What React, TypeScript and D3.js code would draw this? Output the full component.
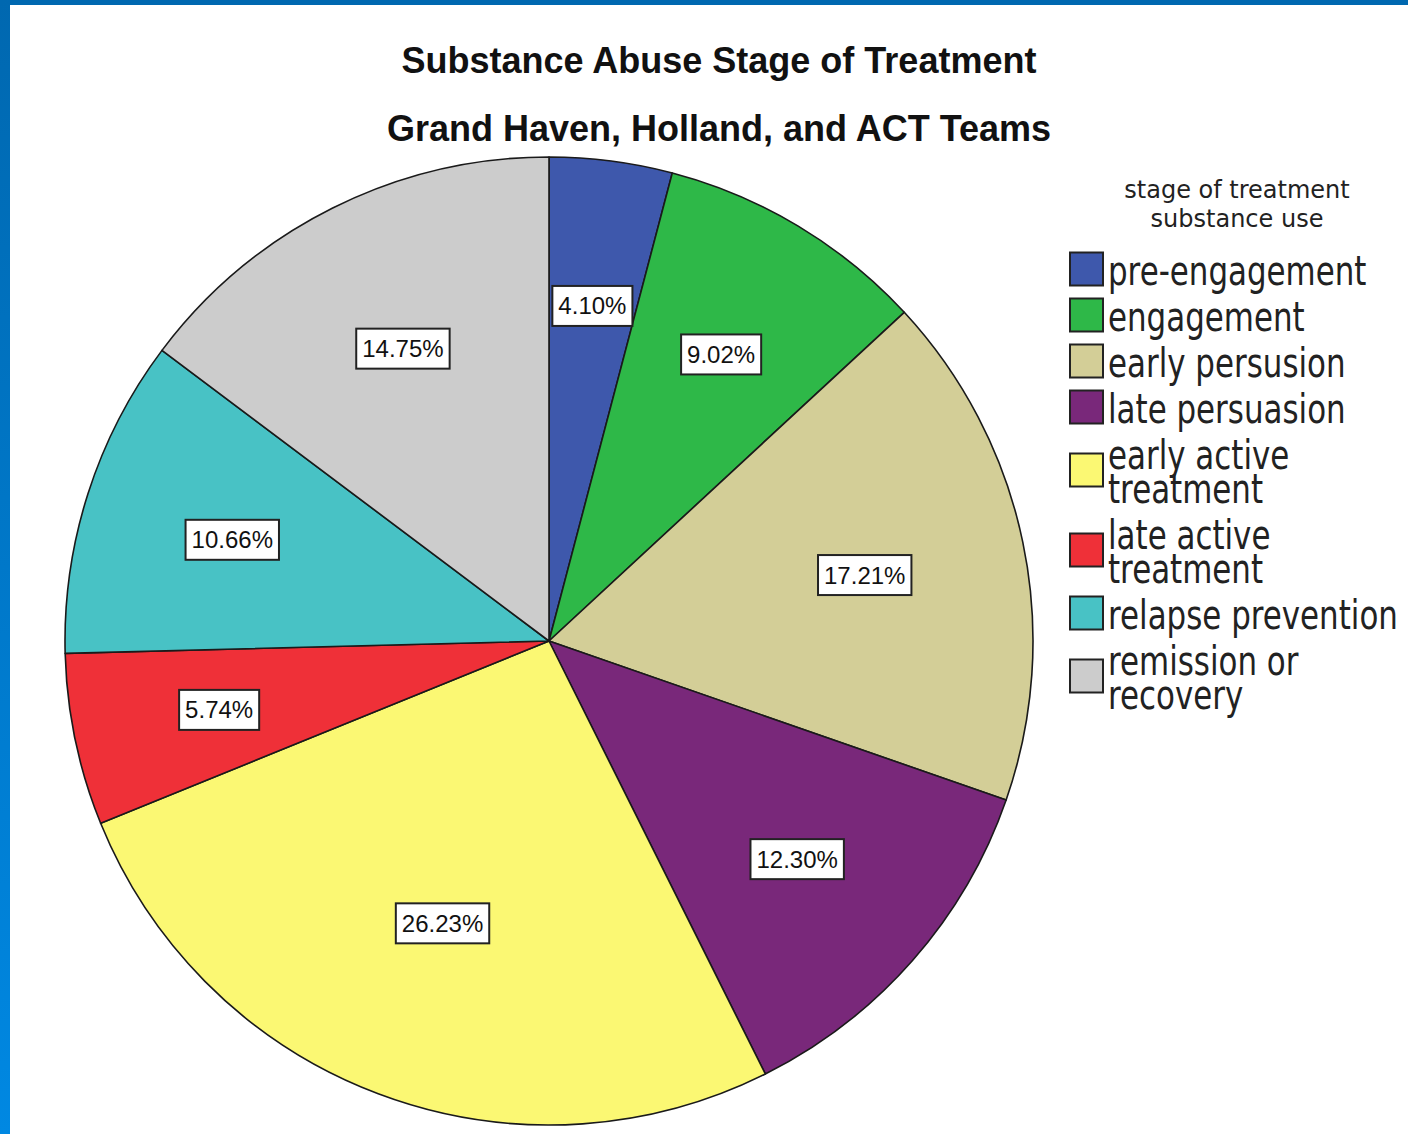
import React, { useEffect, useRef } from 'react';
import * as d3 from 'd3';

const titleLines = ['Substance Abuse Stage of Treatment', 'Grand Haven, Holland, and ACT Teams'];
const legendTitle = ['stage of treatment', 'substance use'];
const categories = [
  'pre-engagement', 'engagement', 'early persusion', 'late persuasion',
  'early active treatment', 'late active treatment', 'relapse prevention', 'remission or recovery',
];
const legendLines = [
  ['pre-engagement'], ['engagement'], ['early persusion'], ['late persuasion'],
  ['early active', 'treatment'], ['late active', 'treatment'], ['relapse prevention'], ['remission or', 'recovery'],
];
const percents = [4.10, 9.02, 17.21, 12.30, 26.23, 5.74, 10.66, 14.75];
const colors = ['#3E58AC', '#2EB848', '#D3CE97', '#79287A', '#FBF873', '#EF3038', '#48C2C5', '#CCCCCC'];

const W = 1408;
const H = 1134;

export default function App() {
  const ref = useRef<SVGSVGElement | null>(null);

  useEffect(() => {
    const svg = d3.select(ref.current);
    svg.selectAll('*').remove();

    const defs = svg.append('defs');
    const grad = defs.append('linearGradient').attr('id', 'leftband').attr('x1', 0).attr('y1', 0).attr('x2', 0).attr('y2', 1);
    grad.append('stop').attr('offset', '0%').attr('stop-color', '#0068B0');
    grad.append('stop').attr('offset', '100%').attr('stop-color', '#0088E2');

    svg.append('rect').attr('width', W).attr('height', H).attr('fill', '#ffffff');
    svg.append('rect').attr('x', 0).attr('y', 0).attr('width', W).attr('height', 5).attr('fill', '#0068B0');
    svg.append('rect').attr('x', 0).attr('y', 0).attr('width', 10).attr('height', H).attr('fill', 'url(#leftband)');

    // Title
    const titleG = svg.append('g');
    titleLines.forEach((t, i) => {
      titleG.append('text')
        .attr('x', 719).attr('y', 73 + i * 68)
        .attr('text-anchor', 'middle')
        .attr('font-family', '"Liberation Sans", Arial, sans-serif')
        .attr('font-weight', 'bold')
        .attr('font-size', 36)
        .attr('fill', '#111')
        .text(t);
    });

    // Pie
    const cx = 549, cy = 641, r = 484;
    const pie = d3.pie<number>().sort(null).value((d) => d).startAngle(0).endAngle(2 * Math.PI);
    const arcs = pie(percents);
    const arc = d3.arc<d3.PieArcDatum<number>>().innerRadius(0).outerRadius(r);
    const pg = svg.append('g').attr('transform', `translate(${cx},${cy})`);
    pg.selectAll('path.slice').data(arcs).enter().append('path')
      .attr('class', 'slice')
      .attr('d', arc)
      .attr('fill', (_d, i) => colors[i])
      .attr('stroke', '#1a1a1a')
      .attr('stroke-width', 1.6)
      .attr('stroke-linejoin', 'round');

    // Labels
    arcs.forEach((a) => {
      const half = (a.endAngle - a.startAngle) / 2;
      const mid = (a.endAngle + a.startAngle) / 2;
      const dist = ((2 * r * Math.sin(half)) / (3 * half)) * 1.05;
      const lx = Math.sin(mid) * dist;
      const ly = -Math.cos(mid) * dist;
      const g = pg.append('g').attr('transform', `translate(${lx},${ly})`);
      const rect = g.append('rect');
      const txt = g.append('text')
        .attr('text-anchor', 'middle')
        .attr('y', 8.5)
        .attr('font-family', '"Liberation Sans", Arial, sans-serif')
        .attr('font-size', 24)
        .attr('fill', '#111')
        .text(`${a.data.toFixed(2)}%`);
      const w = (txt.node() as SVGTextElement).getComputedTextLength() + 12;
      rect.attr('x', -w / 2).attr('y', -20).attr('width', w).attr('height', 40)
        .attr('fill', '#fff').attr('stroke', '#222').attr('stroke-width', 2);
    });

    // Legend
    const lg = svg.append('g');
    legendTitle.forEach((t, i) => {
      lg.append('text')
        .attr('x', 1237).attr('y', 198 + i * 29)
        .attr('text-anchor', 'middle')
        .attr('font-family', '"DejaVu Sans", sans-serif')
        .attr('font-size', 24)
        .attr('fill', '#222')
        .text(t);
    });
    let base = 285;
    const lineH = 34;
    legendLines.forEach((lines, i) => {
      const first = base;
      const last = base + (lines.length - 1) * lineH;
      const sc = (first + last) / 2 - 16;
      lg.append('rect')
        .attr('x', 1070).attr('y', sc - 16.5).attr('width', 33).attr('height', 33)
        .attr('fill', colors[i]).attr('stroke', '#222').attr('stroke-width', 2);
      lines.forEach((ln, j) => {
        lg.append('text')
          .attr('transform', `translate(1108,${first + j * lineH}) scale(0.773,1)`)
          .attr('font-family', '"DejaVu Sans", sans-serif')
          .attr('font-size', 40)
          .attr('fill', '#222')
          .text(ln);
      });
      base = last + 46;
    });
    lg.append('title').text(categories.join(', '));
  }, []);

  return (
    <svg
      ref={ref}
      width={W}
      height={H}
      style={{ position: 'absolute', left: 0, top: 0, display: 'block' }}
    />
  );
}
